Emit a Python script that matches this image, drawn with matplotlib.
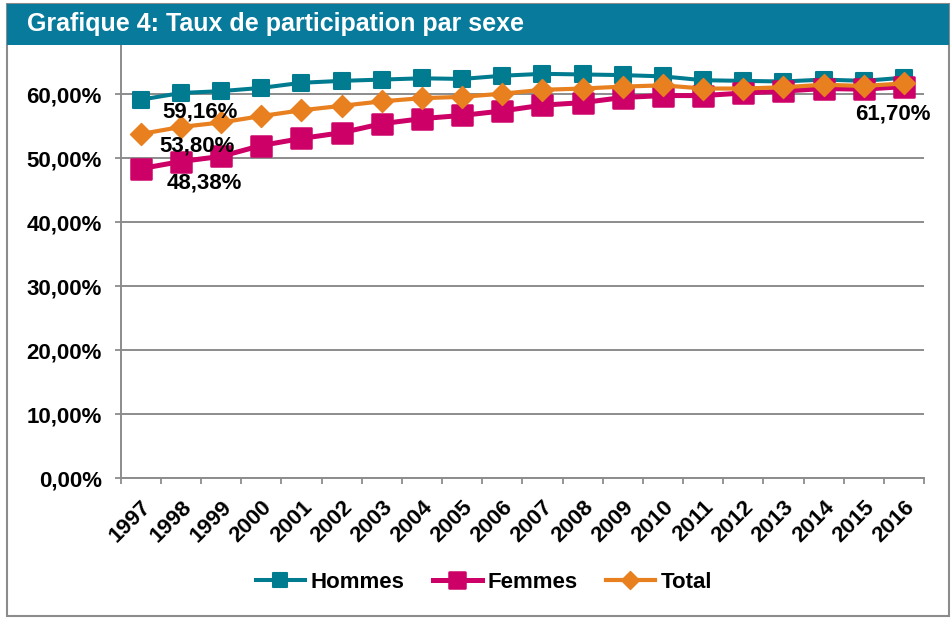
import matplotlib
matplotlib.use("Agg")
import matplotlib.pyplot as plt
from matplotlib.patches import Rectangle
from matplotlib.markers import MarkerStyle

plt.rcParams['font.family'] = ['Liberation Sans', 'DejaVu Sans']
plt.rcParams['font.weight'] = 'bold'

years = ["1997", "1998", "1999", "2000", "2001", "2002", "2003", "2004", "2005", "2006",
         "2007", "2008", "2009", "2010", "2011", "2012", "2013", "2014", "2015", "2016"]
hommes = [59.16, 60.2, 60.5, 61.0, 61.8, 62.1, 62.3, 62.5, 62.4, 62.9,
          63.2, 63.1, 63.0, 62.8, 62.2, 62.1, 62.0, 62.3, 62.1, 62.6]
femmes = [48.38, 49.5, 50.3, 52.0, 53.1, 54.0, 55.4, 56.2, 56.7, 57.4,
          58.3, 58.7, 59.5, 59.8, 59.8, 60.2, 60.5, 60.9, 60.8, 61.2]
total = [53.80, 54.9, 55.6, 56.6, 57.5, 58.2, 58.9, 59.4, 59.6, 60.1,
         60.7, 60.9, 61.2, 61.4, 60.9, 60.9, 61.1, 61.5, 61.3, 61.70]
series_names = ["Hommes", "Femmes", "Total"]
yticks = [0, 10, 20, 30, 40, 50, 60]
title = "Grafique 4: Taux de participation par sexe"

c_h = "#007b8f"
c_f = "#cc0066"
c_t = "#e8801f"
c_banner = "#087a9b"
c_grid = "#8c8c8c"
FS = 16

W, H = 953, 618
fig = plt.figure(figsize=(W / 100, H / 100), dpi=100)

def fx(px):
    return px / W

def fy(py):
    return 1 - py / H

ax_left, ax_right, ax_bottom, ax_top = 120.7, 924, 478.3, 45
ax = fig.add_axes([fx(ax_left), fy(ax_bottom), fx(ax_right - ax_left), (ax_bottom - ax_top) / H])

x = list(range(len(years)))
sq = MarkerStyle('s', joinstyle='round')
dm = MarkerStyle('D', joinstyle='round')
ax.plot(x, hommes, color=c_h, lw=2.9, marker=sq, ms=12, mew=1.5, mec=c_h, mfc=c_h,
        label=series_names[0], zorder=3)
ax.plot(x, femmes, color=c_f, lw=3.6, marker=sq, ms=14, mew=1.8, mec=c_f, mfc=c_f,
        label=series_names[1], zorder=4)
ax.plot(x, total, color=c_t, lw=3.0, marker=dm, ms=11, mew=1, mec=c_t, mfc=c_t,
        label=series_names[2], zorder=5)

ax.set_xlim(-0.5, len(years) - 0.5)
ax.set_ylim(0, (ax_bottom - ax_top) / 6.4)
ax.set_yticks(yticks)
ax.set_yticklabels([f"{v:.2f}".replace(".", ",") + "%" for v in yticks])
ax.set_xticks(x)
ax.set_xticklabels(years, rotation=45, ha='right', va='top', rotation_mode='anchor')
ax.set_xticks([i - 0.5 for i in range(len(years) + 1)], minor=True)
ax.tick_params(axis='x', which='major', length=0, pad=13, labelsize=FS)
ax.tick_params(axis='x', which='minor', length=4.5, width=1.3, color=c_grid)
ax.tick_params(axis='y', length=4.5, width=1.3, color=c_grid, pad=9, labelsize=FS)
for lab in ax.get_xticklabels() + ax.get_yticklabels():
    lab.set_fontweight('bold')

ax.grid(axis='y', color=c_grid, lw=1.4, zorder=0)
ax.set_axisbelow(True)
for s in ['top', 'right']:
    ax.spines[s].set_visible(False)
for s in ['left', 'bottom']:
    ax.spines[s].set_color(c_grid)
    ax.spines[s].set_linewidth(1.4)

def lab(xi, yv, dxpx, dypx, txt):
    ax.annotate(txt, (xi, yv), xytext=(dxpx * 0.72, -dypx * 0.72), textcoords='offset points',
                ha='center', va='center', fontsize=FS, fontweight='bold', zorder=6)

def pct(v):
    return f"{v:.2f}".replace(".", ",") + "%"

lab(0, hommes[0], 59, 12.5, pct(hommes[0]))
lab(0, total[0], 56, 12.5, pct(total[0]))
lab(0, femmes[0], 64, 14, pct(femmes[0]))
lab(len(years) - 1, total[-1], -11.5, 30.5, pct(total[-1]))

# outer frame and banner
fig.patches.append(Rectangle((fx(7), fy(616)), fx(942), (616 - 4) / H, transform=fig.transFigure,
                             fill=False, edgecolor=c_grid, lw=1.5, zorder=0))
fig.patches.append(Rectangle((fx(7), fy(45)), fx(942), (45 - 4) / H, transform=fig.transFigure,
                             facecolor=c_banner, edgecolor='none', zorder=10))
fig.text(fx(27), fy(24.5), title, color='white', fontsize=18, fontweight='bold',
         ha='left', va='center', zorder=11)

fig.legend(loc='center', bbox_to_anchor=(fx(484), fy(582)), ncol=3, frameon=False,
           prop={'size': FS, 'weight': 'bold'}, handlelength=2.2, handletextpad=0.27,
           columnspacing=1.26, markerscale=0.85)

fig.savefig("out.png", dpi=100)
